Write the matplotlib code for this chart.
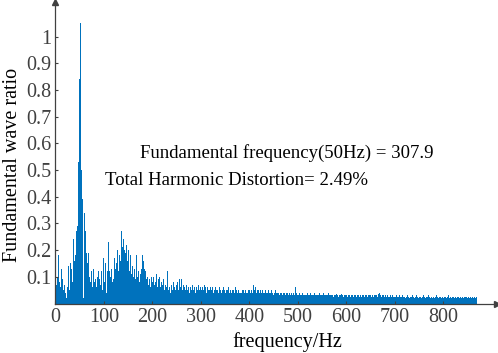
import numpy as np
import matplotlib
matplotlib.use("Agg")
import matplotlib.pyplot as plt

# Spectrum, 2 Hz bins starting at 0 Hz
ratio_0_300 = [
    0.09, 0.07, 0.10, 0.18, 0.08,   0.06, 0.13, 0.09, 0.05, 0.07,
    0.04, 0.02, 0.06, 0.14, 0.05,   0.15, 0.13, 0.08, 0.24, 0.16,
    0.18, 0.27, 0.29, 0.53, 0.84,   1.05, 0.95, 0.50, 0.39, 0.02,
    0.34, 0.27, 0.19, 0.15, 0.19,   0.10, 0.08, 0.12, 0.06, 0.13,
    0.08, 0.09, 0.06, 0.10, 0.12,   0.09, 0.07, 0.12, 0.05, 0.17,
    0.08, 0.15, 0.04, 0.12, 0.23,   0.12, 0.10, 0.13, 0.08, 0.22,
    0.09, 0.17, 0.13, 0.15, 0.20,   0.12, 0.18, 0.16, 0.27, 0.21,
    0.24, 0.20, 0.19, 0.22, 0.16,   0.20, 0.12, 0.18, 0.11, 0.14,
    0.10, 0.13, 0.09, 0.18, 0.10,   0.12, 0.08, 0.11, 0.13, 0.18,
    0.16, 0.13, 0.10, 0.12, 0.09,   0.10, 0.07, 0.09, 0.06, 0.10,
    0.08, 0.10, 0.07, 0.08, 0.11,   0.06, 0.09, 0.10, 0.06, 0.08,
    0.07, 0.09, 0.05, 0.07, 0.06,   0.12, 0.05, 0.06, 0.04, 0.07,
    0.05, 0.08, 0.06, 0.05, 0.07,   0.06, 0.08, 0.05, 0.09, 0.06,
    0.09, 0.05, 0.07, 0.06, 0.05,   0.07, 0.05, 0.06, 0.04, 0.06,
    0.05, 0.07, 0.05, 0.06, 0.04,   0.06, 0.05, 0.07, 0.05, 0.06,
]
ratio_300_870 = [
    0.05, 0.06, 0.05, 0.07, 0.06, 0.04, 0.06, 0.05, 0.06, 0.05,
    0.06, 0.05, 0.06, 0.04, 0.05, 0.06, 0.05, 0.05, 0.04, 0.06,
    0.05, 0.04, 0.05, 0.06, 0.05, 0.04, 0.05, 0.05, 0.06, 0.04,
    0.05, 0.04, 0.05, 0.05, 0.04, 0.06, 0.05, 0.04, 0.05, 0.04,
    0.04, 0.05, 0.04, 0.05, 0.05, 0.04, 0.05, 0.04, 0.04, 0.05,
    0.05, 0.04, 0.05, 0.04, 0.07, 0.05, 0.06, 0.04, 0.05, 0.05,
    0.04, 0.05, 0.04, 0.05, 0.04, 0.04, 0.05, 0.04, 0.04, 0.05,
    0.04, 0.04, 0.05, 0.04, 0.04, 0.03, 0.04, 0.05, 0.04, 0.04,
    0.04, 0.03, 0.04, 0.04, 0.03, 0.04, 0.04, 0.03, 0.04, 0.04,
    0.03, 0.04, 0.03, 0.04, 0.03, 0.04, 0.03, 0.06, 0.04, 0.03,
    0.03, 0.04, 0.03, 0.03, 0.04, 0.03, 0.03, 0.04, 0.03, 0.03,
    0.04, 0.03, 0.03, 0.04, 0.03, 0.03, 0.03, 0.04, 0.03, 0.03,
    0.03, 0.03, 0.04, 0.03, 0.03, 0.03, 0.04, 0.03, 0.03, 0.03,
    0.03, 0.04, 0.03, 0.03, 0.03, 0.03, 0.025, 0.03, 0.03, 0.035,
    0.03, 0.03, 0.025, 0.03, 0.03, 0.035, 0.03, 0.025, 0.03, 0.03,
    0.03, 0.025, 0.03, 0.03, 0.025, 0.03, 0.03, 0.025, 0.03, 0.03,
    0.025, 0.03, 0.03, 0.025, 0.03, 0.025, 0.03, 0.03, 0.025, 0.03,
    0.03, 0.025, 0.03, 0.025, 0.03, 0.03, 0.025, 0.03, 0.025, 0.03,
    0.03, 0.03, 0.025, 0.035, 0.04, 0.03, 0.025, 0.03, 0.03, 0.025,
    0.03, 0.025, 0.03, 0.025, 0.025, 0.03, 0.025, 0.03, 0.025, 0.025,
    0.025, 0.03, 0.025, 0.025, 0.03, 0.025, 0.02, 0.025, 0.03, 0.025,
    0.025, 0.02, 0.025, 0.03, 0.025, 0.02, 0.025, 0.025, 0.03, 0.025,
    0.02, 0.025, 0.03, 0.025, 0.02, 0.025, 0.025, 0.02, 0.025, 0.03,
    0.025, 0.02, 0.025, 0.025, 0.03, 0.025, 0.02, 0.025, 0.02, 0.025,
    0.025, 0.02, 0.025, 0.03, 0.025, 0.02, 0.025, 0.025, 0.02, 0.025,
    0.02, 0.025, 0.025, 0.02, 0.025, 0.03, 0.02, 0.025, 0.02, 0.025,
    0.025, 0.02, 0.025, 0.02, 0.025, 0.025, 0.02, 0.025, 0.02, 0.025,
    0.02, 0.025, 0.02, 0.025, 0.025, 0.02, 0.025, 0.02, 0.025, 0.02,
    0.025, 0.02, 0.025, 0.02, 0.025,
]
bin_width_hz = 2
ratio = ratio_0_300 + ratio_300_870
edges = [i * bin_width_hz for i in range(len(ratio) + 1)]

x_ticks = [0, 100, 200, 300, 400, 500, 600, 700, 800]
y_ticks = [0.1, 0.2, 0.3, 0.4, 0.5, 0.6, 0.7, 0.8, 0.9, 1.0]
y_tick_labels = ["0.1", "0.2", "0.3", "0.4", "0.5", "0.6", "0.7", "0.8", "0.9", "1"]
line1 = "Fundamental frequency(50Hz) = 307.9"
line2 = "Total Harmonic Distortion= 2.49%"

plt.rcParams["font.family"] = ["Liberation Serif", "DejaVu Serif"]
W, H = 498, 353
fig = plt.figure(figsize=(W / 100, H / 100), dpi=100)
ax = fig.add_axes([55.3 / W, 49.5 / H, 441.7 / W, 301.5 / H])

blue = "#0072BD"
gray = "#404040"
ax.stairs(ratio, edges, fill=True, color=blue, linewidth=0)

ax.set_xlim(0, 911)
ax.set_ylim(0, 1.13)
ax.set_xticks(x_ticks)
ax.set_yticks(y_ticks)
ax.set_yticklabels(y_tick_labels)
ax.tick_params(direction="in", length=2.5, width=0.8, color=gray, labelcolor=gray,
               labelsize=14.5, pad=3)
for s in ["top", "right"]:
    ax.spines[s].set_visible(False)
for s in ["left", "bottom"]:
    ax.spines[s].set_color(gray)
    ax.spines[s].set_linewidth(0.9)

# axis arrows
ax.plot([1], [0], marker=">", color=gray, markersize=5, transform=ax.transAxes, clip_on=False)
ax.plot([0], [1], marker="^", color=gray, markersize=5, transform=ax.transAxes, clip_on=False)

ax.set_xlabel("frequency/Hz", fontsize=14.5)
ax.set_ylabel("Fundamental wave ratio", fontsize=14.5)
ax.xaxis.set_label_coords(0.526, -0.095)
ax.yaxis.set_label_coords(-0.076, 0.46)

fig.text(140 / W, 1 - 153 / H, line1, fontsize=13.5, ha="left", va="center")
fig.text(105 / W, 1 - 181 / H, line2, fontsize=13.5, ha="left", va="center")

fig.savefig("out.png", dpi=100)
